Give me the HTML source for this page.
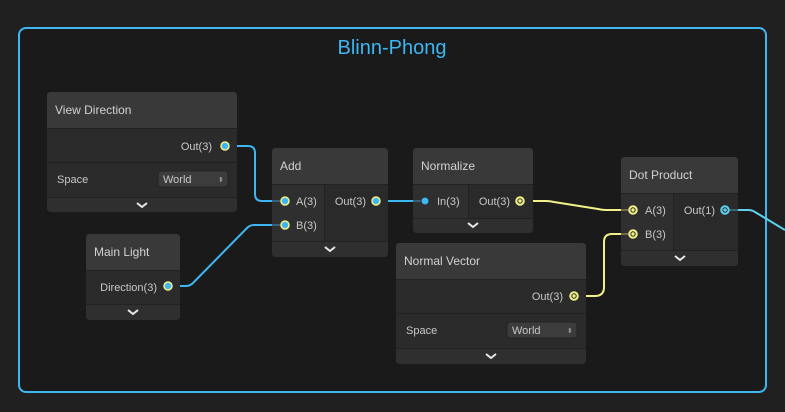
<!DOCTYPE html>
<html><head><meta charset="utf-8"><style>
html,body{margin:0;padding:0;background:#202020;width:785px;height:412px;overflow:hidden}
svg{display:block}
text{font-family:"Liberation Sans","DejaVu Sans",sans-serif;fill:#c8c8c8;font-size:11px}
.h{font-size:12px;fill:#d2d2d2}
</style></head><body>
<svg width="785" height="412" viewBox="0 0 785 412" xmlns="http://www.w3.org/2000/svg">
<defs>
<g id="chev"><path d="M-5,-2 L0,2 L5,-2" fill="none" stroke="#e8e8e8" stroke-width="2"/></g>
</defs>
<rect x="19" y="28" width="747" height="364" rx="7" fill="#1a1a1a" stroke="#3db6f2" stroke-width="2"/>
<text x="392" y="54" text-anchor="middle" style="font-size:20px;fill:#3db6f2">Blinn-Phong</text>

<!-- wires -->
<g fill="none" stroke-width="2">
<path d="M232,146 H248 Q255,146 255,153 V194 Q255,201 262,201 H279" stroke="#3db6f2"/>
<path d="M174,286 H186 Q190,286 193,283 L247,228 Q250,225 254,225 H279" stroke="#3db6f2"/>
<path d="M382,201 H419" stroke="#3db6f2"/>
<path d="M526,201 H546 Q550,201 554,202 L598,209 Q602,210 606,210 H627" stroke="#f2f089"/>
<path d="M580,296 H595 Q604,296 604,287 V242 Q604,234 612,234 H627" stroke="#f2f089"/>
<path d="M731,210 H748 Q752,210 755,212 L785,230" stroke="#5fd0ee"/>
</g>

<!-- View Direction -->
<g>
<rect x="47" y="92" width="190" height="120" rx="4" fill="#2b2b2b"/>
<path d="M47,128 V96 Q47,92 51,92 H233 Q237,92 237,96 V128Z" fill="#393939"/>
<rect x="47" y="128" width="190" height="1" fill="#222"/>
<rect x="47" y="162" width="190" height="1" fill="#222"/>
<path d="M47,197 H237 V208 Q237,212 233,212 H51 Q47,212 47,208Z" fill="#2f2f2f"/>
<rect x="47" y="197" width="190" height="1" fill="#222"/>
<text class="h" x="55" y="114">View Direction</text>
<text x="212" y="150" text-anchor="end">Out(3)</text>
<text x="57" y="183">Space</text>
<rect x="158" y="171" width="70" height="16" rx="3" fill="#3c3c3c" stroke="#232323"/>
<text x="163" y="183">World</text>
<text x="218" y="182" style="font-size:7px;fill:#999">⬍</text>
<use href="#chev" x="142" y="205"/>
</g>

<!-- Main Light -->
<g>
<rect x="86" y="234" width="94" height="86" rx="4" fill="#2b2b2b"/>
<path d="M86,270 V238 Q86,234 90,234 H176 Q180,234 180,238 V270Z" fill="#393939"/>
<rect x="86" y="270" width="94" height="1" fill="#222"/>
<path d="M86,304 H180 V316 Q180,320 176,320 H90 Q86,320 86,316Z" fill="#2f2f2f"/>
<rect x="86" y="304" width="94" height="1" fill="#222"/>
<text class="h" x="94" y="256">Main Light</text>
<text x="157" y="291" text-anchor="end">Direction(3)</text>
<use href="#chev" x="133" y="312"/>
</g>

<!-- Add -->
<g>
<rect x="272" y="148" width="116" height="109" rx="4" fill="#2a2a2a"/>
<path d="M272,184 V152 Q272,148 276,148 H384 Q388,148 388,152 V184Z" fill="#393939"/>
<rect x="272" y="185" width="52" height="56" fill="#2f2f2f"/>
<rect x="324" y="185" width="1" height="56" fill="#222"/>
<rect x="272" y="184" width="116" height="1" fill="#222"/>
<path d="M272,241 H388 V253 Q388,257 384,257 H276 Q272,257 272,253Z" fill="#2f2f2f"/>
<rect x="272" y="241" width="116" height="1" fill="#222"/>
<text class="h" x="280" y="170">Add</text>
<text x="296" y="205">A(3)</text>
<text x="296" y="229">B(3)</text>
<text x="366" y="205" text-anchor="end">Out(3)</text>
<use href="#chev" x="330" y="249"/>
</g>

<!-- Normalize -->
<g>
<rect x="413" y="148" width="120" height="85" rx="4" fill="#2a2a2a"/>
<path d="M413,184 V152 Q413,148 417,148 H529 Q533,148 533,152 V184Z" fill="#393939"/>
<rect x="413" y="185" width="55" height="33" fill="#2f2f2f"/>
<rect x="468" y="185" width="1" height="33" fill="#222"/>
<rect x="413" y="184" width="120" height="1" fill="#222"/>
<path d="M413,218 H533 V229 Q533,233 529,233 H417 Q413,233 413,229Z" fill="#2f2f2f"/>
<rect x="413" y="218" width="120" height="1" fill="#222"/>
<text class="h" x="421" y="170">Normalize</text>
<text x="437" y="205">In(3)</text>
<text x="510" y="205" text-anchor="end">Out(3)</text>
<use href="#chev" x="473" y="225"/>
</g>

<!-- Normal Vector -->
<g>
<rect x="396" y="243" width="190" height="121" rx="4" fill="#2b2b2b"/>
<path d="M396,279 V247 Q396,243 400,243 H582 Q586,243 586,247 V279Z" fill="#393939"/>
<rect x="396" y="279" width="190" height="1" fill="#222"/>
<rect x="396" y="313" width="190" height="1" fill="#222"/>
<path d="M396,348 H586 V360 Q586,364 582,364 H400 Q396,364 396,360Z" fill="#2f2f2f"/>
<rect x="396" y="348" width="190" height="1" fill="#222"/>
<text class="h" x="404" y="265">Normal Vector</text>
<text x="563" y="300" text-anchor="end">Out(3)</text>
<text x="406" y="334">Space</text>
<rect x="507" y="322" width="70" height="16" rx="3" fill="#3c3c3c" stroke="#232323"/>
<text x="512" y="334">World</text>
<text x="567" y="333" style="font-size:7px;fill:#999">⬍</text>
<use href="#chev" x="491" y="356"/>
</g>

<!-- Dot Product -->
<g>
<rect x="621" y="157" width="117" height="109" rx="4" fill="#2a2a2a"/>
<path d="M621,193 V161 Q621,157 625,157 H734 Q738,157 738,161 V193Z" fill="#393939"/>
<rect x="621" y="194" width="52" height="56" fill="#2f2f2f"/>
<rect x="673" y="194" width="1" height="56" fill="#222"/>
<rect x="621" y="193" width="117" height="1" fill="#222"/>
<path d="M621,250 H738 V262 Q738,266 734,266 H625 Q621,266 621,262Z" fill="#2f2f2f"/>
<rect x="621" y="250" width="117" height="1" fill="#222"/>
<text class="h" x="629" y="179">Dot Product</text>
<text x="645" y="214">A(3)</text>
<text x="645" y="238">B(3)</text>
<text x="715" y="214" text-anchor="end">Out(1)</text>
<use href="#chev" x="680" y="258"/>
</g>

<!-- port stubs -->
<g stroke-width="2">
<path d="M272,201 H281 M272,225 H281" stroke="#3a6272"/>
<path d="M413,201 H421" stroke="#3a6272"/>
<path d="M621,210 H629 M621,234 H629" stroke="#6b6b4a"/>
<path d="M729,210 H738" stroke="#3a6272"/>
</g>
<!-- ports -->
<g stroke-width="1.5">
<circle cx="225" cy="146" r="4" fill="#3db6f2" stroke="#f2f089"/>
<circle cx="168" cy="286" r="4" fill="#3db6f2" stroke="#f2f089"/>
<circle cx="285" cy="201" r="4" fill="#3db6f2" stroke="#f2f089"/>
<circle cx="285" cy="225" r="4" fill="#3db6f2" stroke="#f2f089"/>
<circle cx="376" cy="201" r="4" fill="#3db6f2" stroke="#f2f089"/>
<circle cx="425" cy="201" r="4" fill="#3db6f2" stroke="#2a2a2a" stroke-width="1"/>
<circle cx="520" cy="201" r="4" fill="#f2f089" stroke="#f2f089"/>
<circle cx="520" cy="201" r="2.2" fill="none" stroke="#2a2a2a" stroke-width="1"/>
<circle cx="633" cy="210" r="4" fill="#f2f089" stroke="#f2f089"/>
<circle cx="633" cy="210" r="2.2" fill="none" stroke="#2a2a2a" stroke-width="1"/>
<circle cx="633" cy="234" r="4" fill="#f2f089" stroke="#f2f089"/>
<circle cx="633" cy="234" r="2.2" fill="none" stroke="#2a2a2a" stroke-width="1"/>
<circle cx="574" cy="296" r="4" fill="#f2f089" stroke="#f2f089"/>
<circle cx="574" cy="296" r="2.2" fill="none" stroke="#2a2a2a" stroke-width="1"/>
<circle cx="725" cy="210" r="4" fill="#5fd0ee" stroke="#5fd0ee"/>
<circle cx="725" cy="210" r="2.2" fill="none" stroke="#2a2a2a" stroke-width="1"/>
</g>
</svg>
</body></html>
